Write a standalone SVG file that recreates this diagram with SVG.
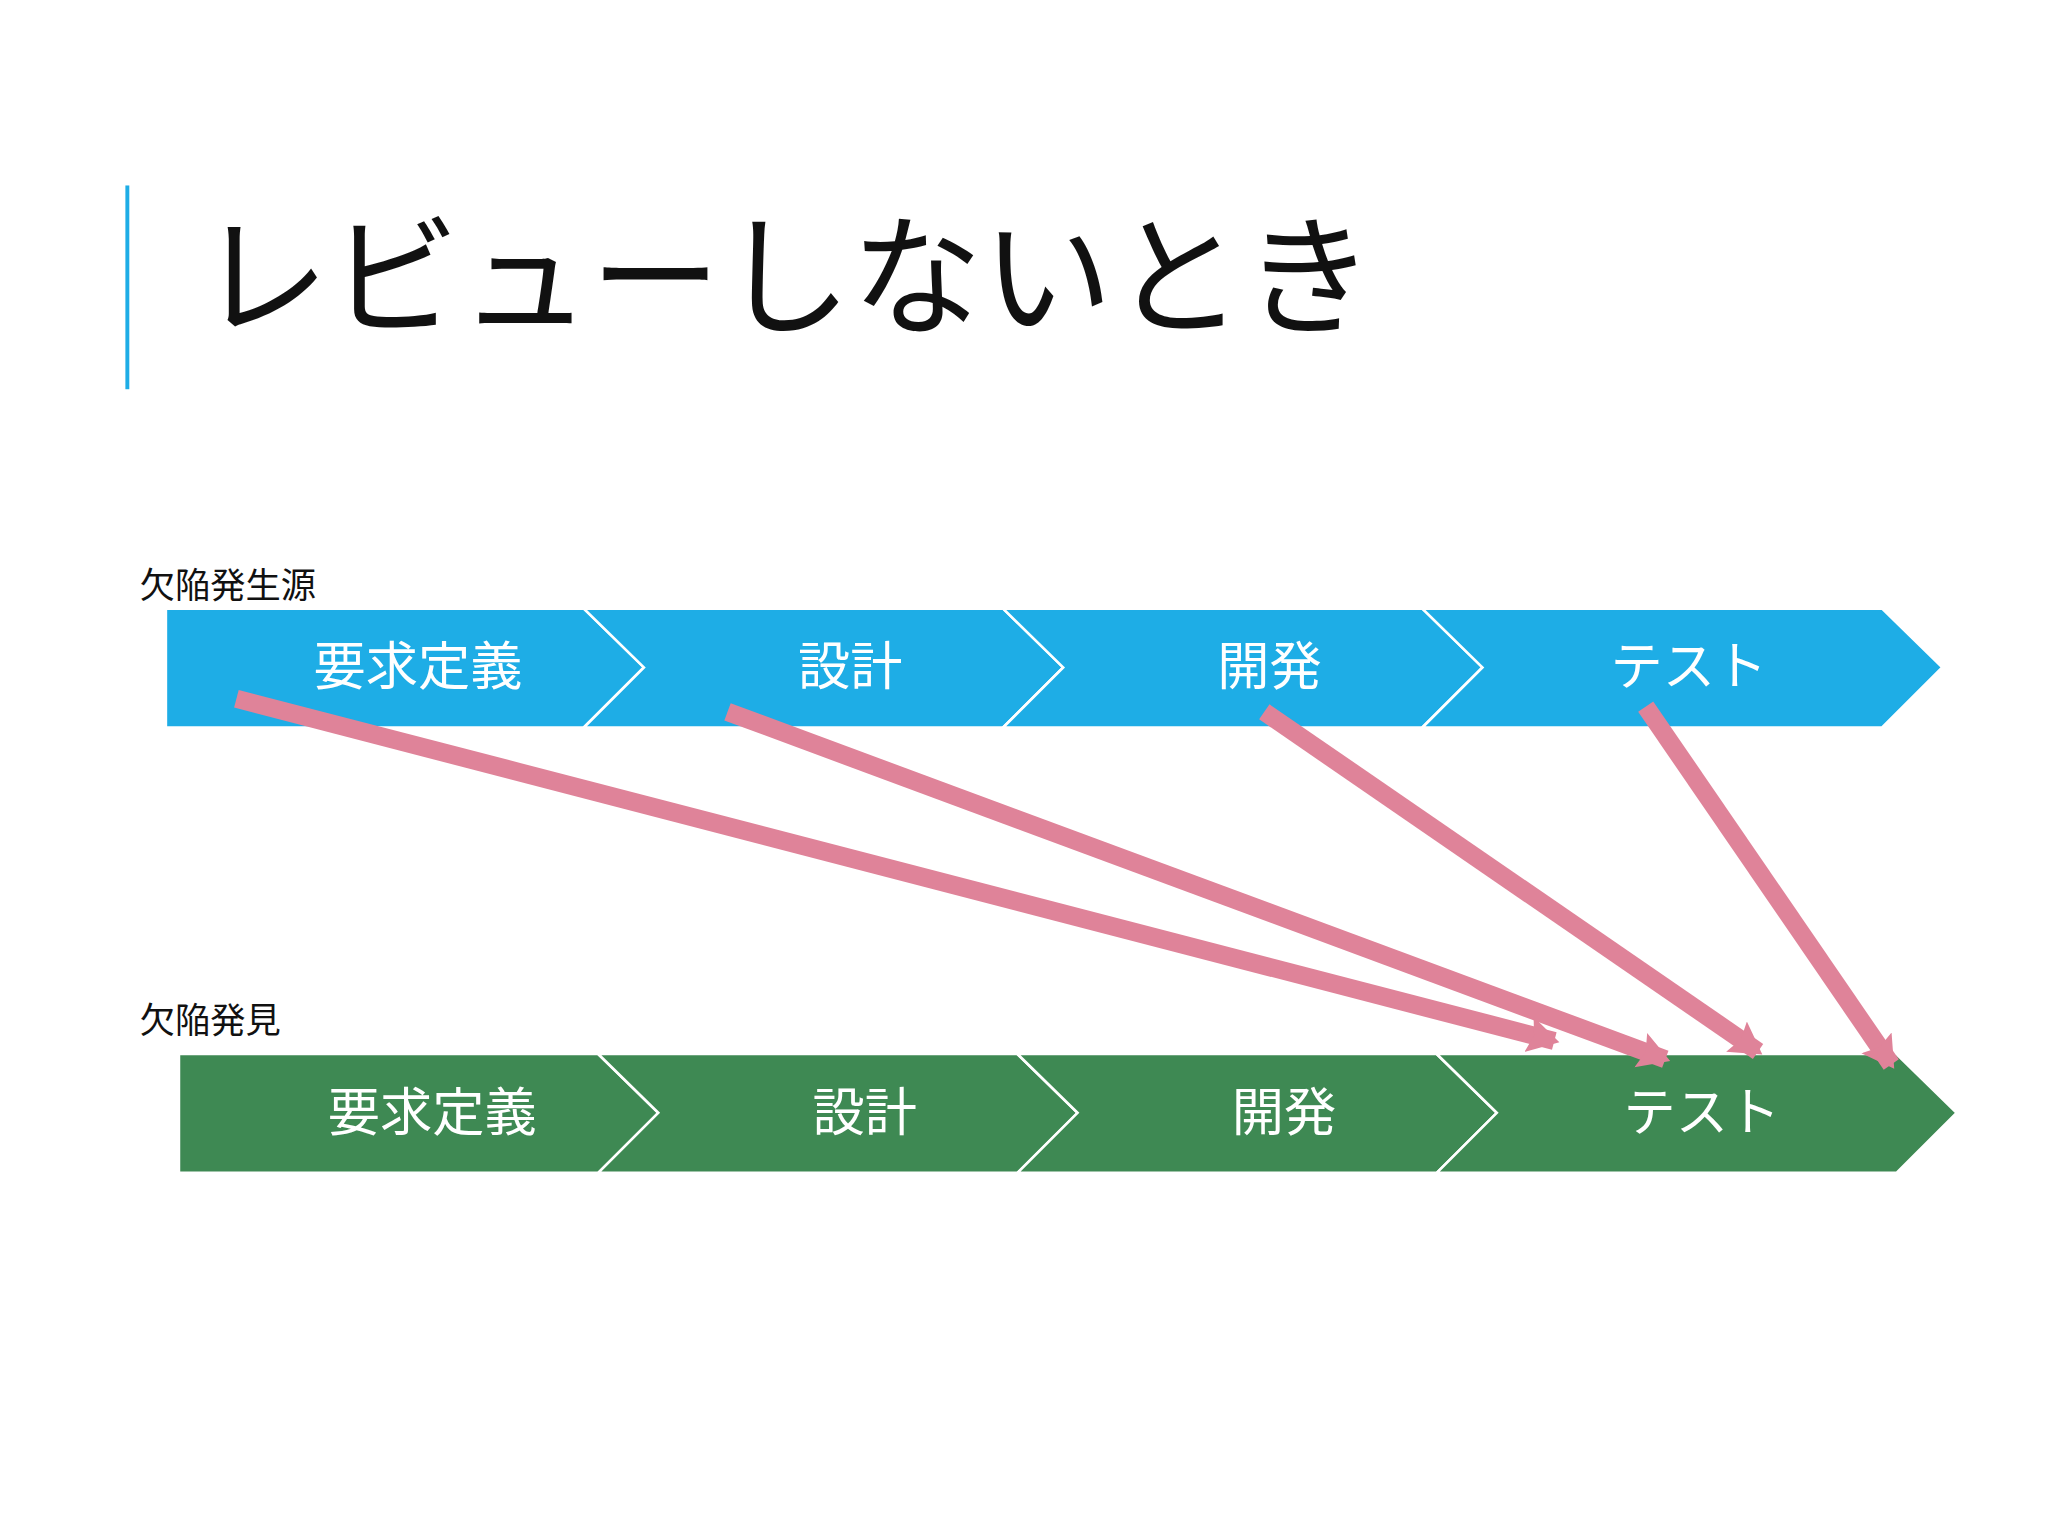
<svg xmlns="http://www.w3.org/2000/svg" width="2048" height="1536" viewBox="0 0 2048 1536">
<style>
.b{fill:#1eade6;stroke:#fff;stroke-width:2}
.g{fill:#3e8953;stroke:#fff;stroke-width:2}
.lbl{font-family:"Noto Sans CJK JP",sans-serif;font-size:40px;fill:#fff;text-anchor:middle;dominant-baseline:central}
.cap{font-family:"Noto Sans CJK JP",sans-serif;font-size:27px;fill:#111}
.a{stroke:#df8399;stroke-width:14;fill:none;marker-end:url(#ah)}
</style>
<defs><marker id="ah" markerUnits="userSpaceOnUse" markerWidth="40" markerHeight="40" refX="20" refY="14" orient="auto" viewBox="0 0 40 28"><polygon points="0,0 24,14 0,28 4,14" fill="#df8399"/></marker></defs>
<rect width="2048" height="1536" fill="#fff"/>
<g transform="scale(1.30612)">
<g id="title"><rect x="96" y="142" width="3" height="156" fill="#1eade6"/>
<text x="152" y="248" font-family="Noto Sans CJK JP,sans-serif" font-size="100" fill="#111">レビューしないとき</text></g>
<g id="row1">
<text class="cap" x="107" y="458">欠陥発生源</text>
<polygon class="b" points="127,466 447,466 493,511 447,557 127,557"/>
<polygon class="b" points="447,466 768,466 814,511 768,557 447,557 493,511"/>
<polygon class="b" points="768,466 1089,466 1135,511 1089,557 768,557 814,511"/>
<polygon class="b" points="1089,466 1441,466 1487,511 1441,557 1089,557 1135,511"/>
<text class="lbl" x="320" y="507">要求定義</text><text class="lbl" x="651" y="507">設計</text><text class="lbl" x="972" y="507">開発</text><text class="lbl" x="1293" y="507">テスト</text>
</g>
<g id="row2">
<text class="cap" x="107" y="791">欠陥発見</text>
<polygon class="g" points="137,807 458,807 504,852 458,898 137,898"/>
<polygon class="g" points="458,807 779,807 825,852 779,898 458,898 504,852"/>
<polygon class="g" points="779,807 1100,807 1146,852 1100,898 779,898 825,852"/>
<polygon class="g" points="1100,807 1452,807 1498,852 1452,898 1100,898 1146,852"/>
<text class="lbl" x="331" y="848">要求定義</text><text class="lbl" x="662" y="848">設計</text><text class="lbl" x="983" y="848">開発</text><text class="lbl" x="1303" y="848">テスト</text>
</g>
<g id="connectors">
<line class="a" x1="181" y1="535" x2="1190" y2="797"/>
<line class="a" x1="557" y1="545" x2="1275" y2="811"/>
<line class="a" x1="968" y1="545" x2="1346" y2="805"/>
<line class="a" x1="1260" y1="541" x2="1448" y2="815"/>
</g>
</g>
</svg>
